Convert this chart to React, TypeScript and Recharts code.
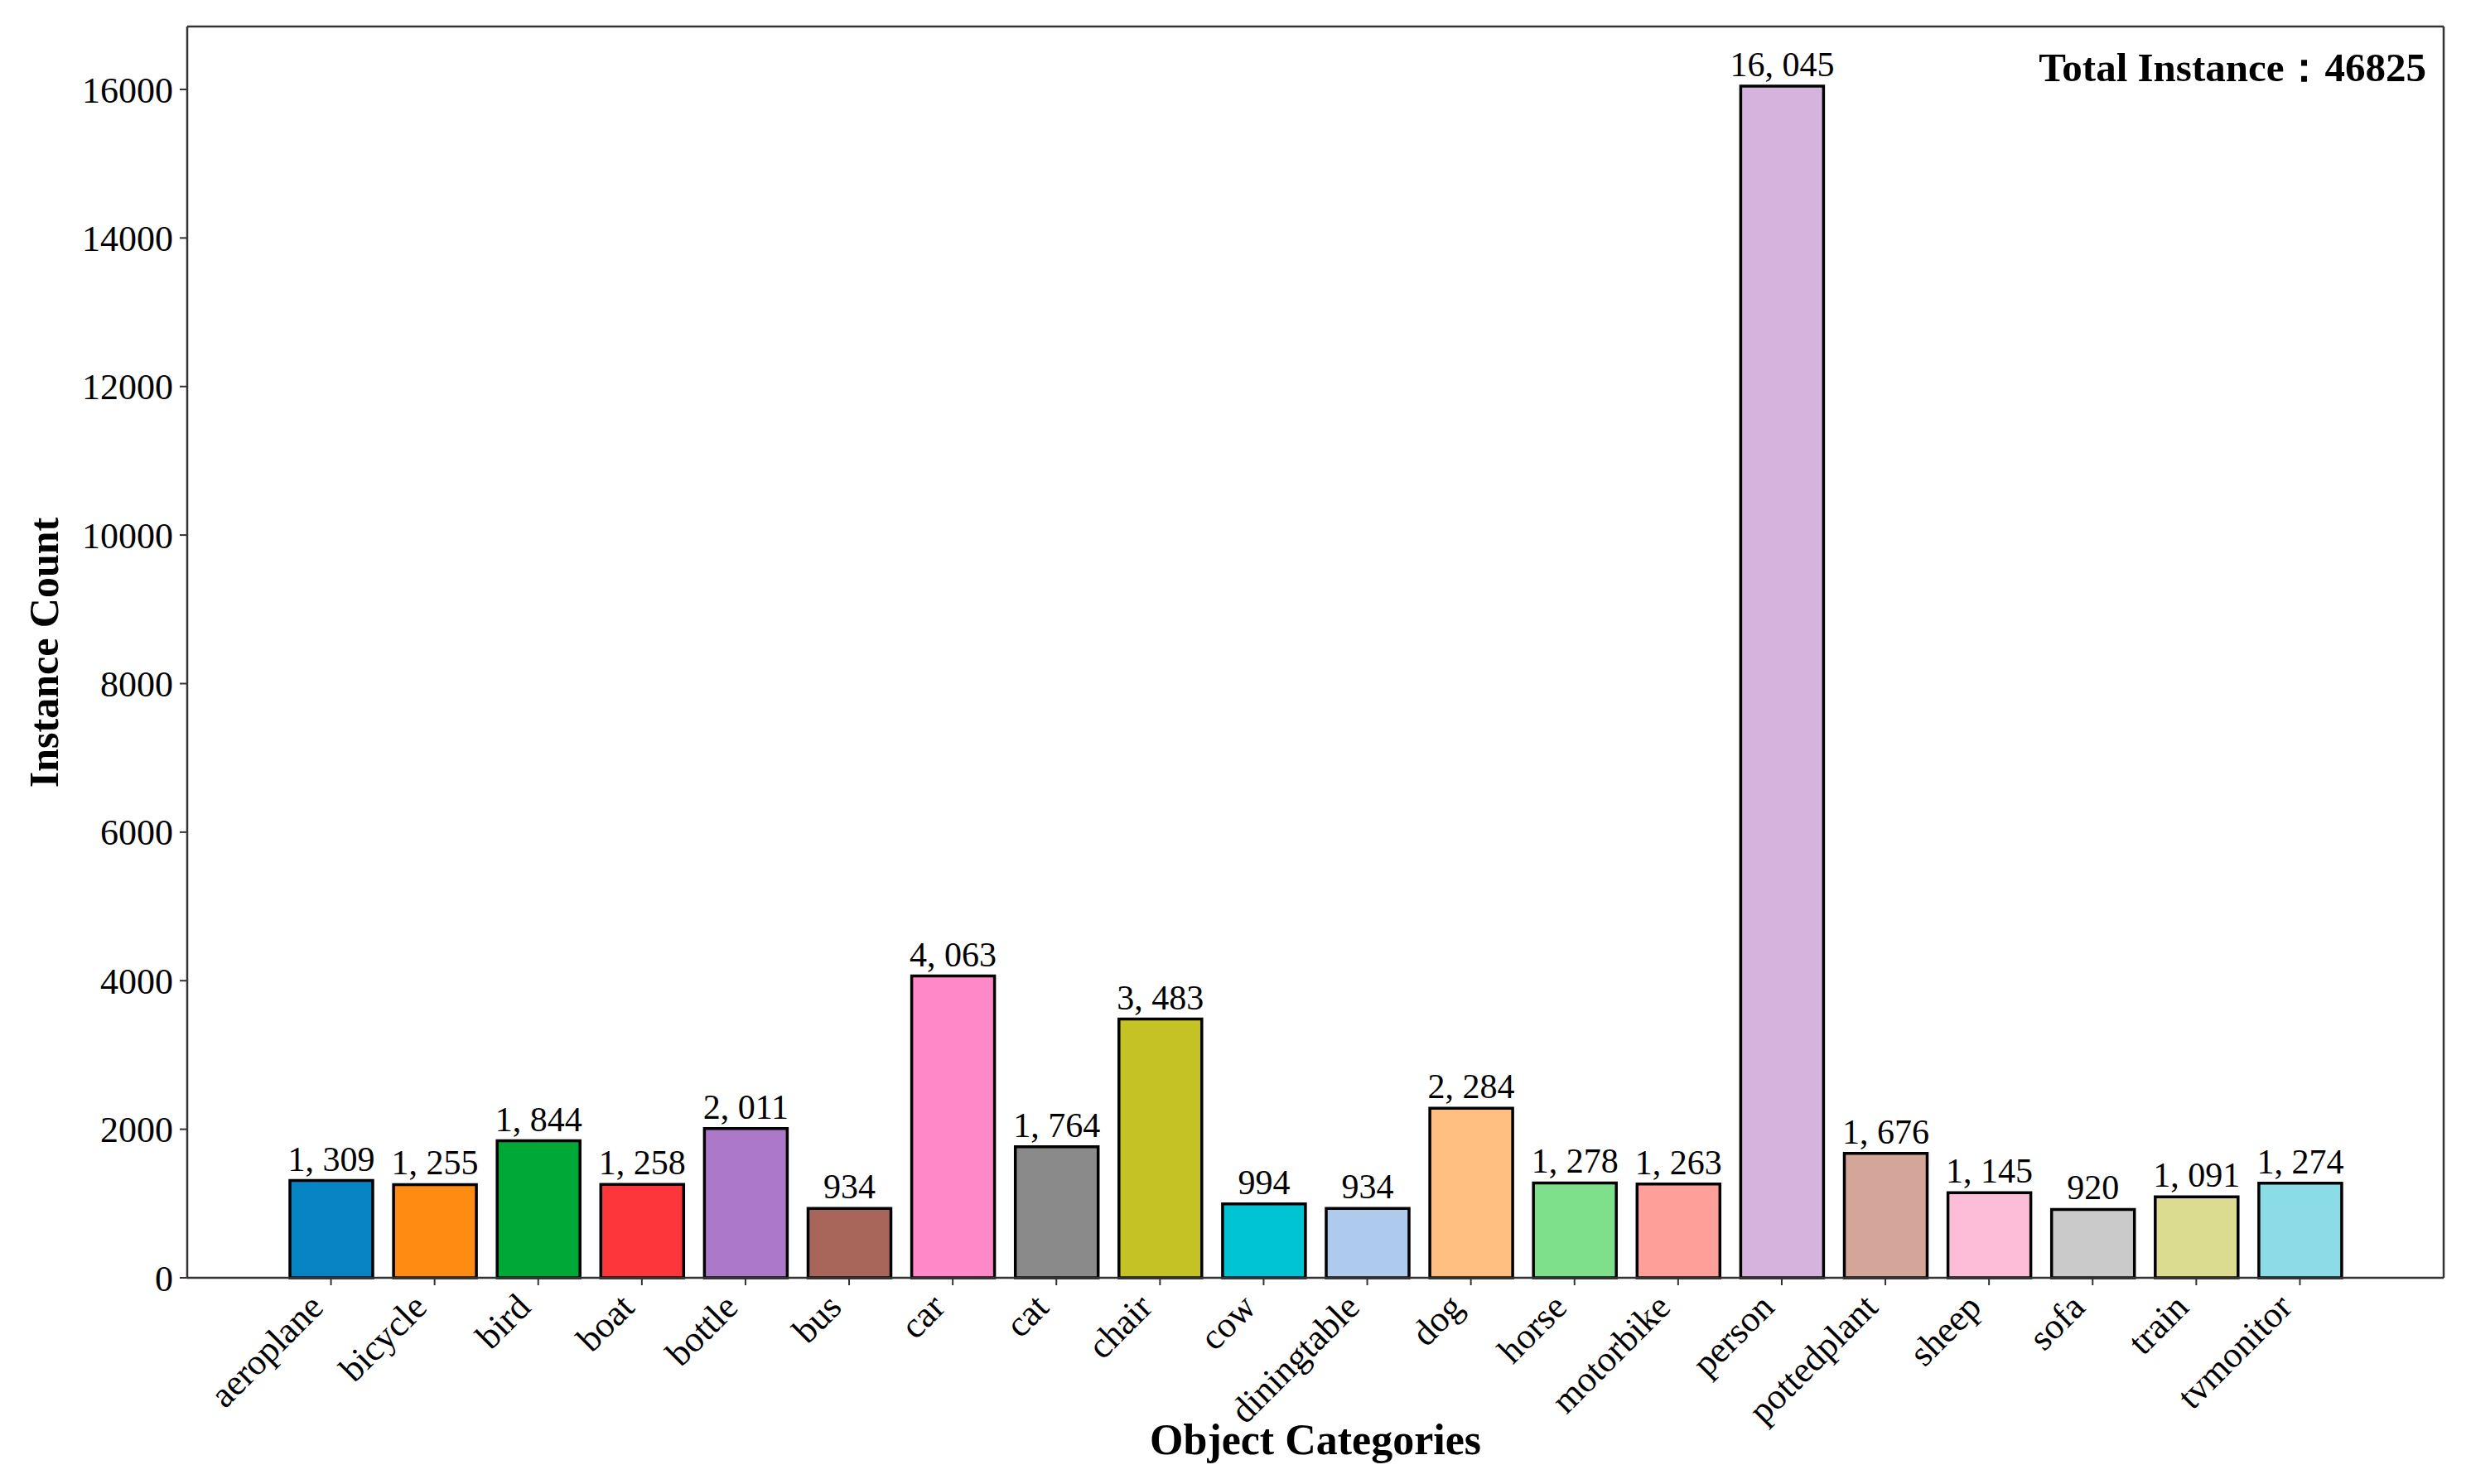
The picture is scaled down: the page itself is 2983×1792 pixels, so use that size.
import { ComposedChart, Bar, Line, XAxis, YAxis, Cell, LabelList } from 'recharts';

const categories = [
  'aeroplane', 'bicycle', 'bird', 'boat', 'bottle', 'bus', 'car', 'cat', 'chair', 'cow',
  'diningtable', 'dog', 'horse', 'motorbike', 'person', 'pottedplant', 'sheep', 'sofa', 'train', 'tvmonitor',
];

const counts = [
  1309, 1255, 1844, 1258, 2011, 934, 4063, 1764, 3483, 994,
  934, 2284, 1278, 1263, 16045, 1676, 1145, 920, 1091, 1274,
];

const yTicks = [0, 2000, 4000, 6000, 8000, 10000, 12000, 14000, 16000];

const palette = [
  '#0784c3', '#ff8c12', '#00a838', '#fc363b', '#ac78c8', '#a8665a', '#ff88c8', '#8a8a8a', '#c4c224', '#00c4d4',
  '#aecbee', '#ffbf80', '#7fe08c', '#ff9f9a', '#d4b4dc', '#d4a69a', '#fdbcd8', '#cacaca', '#dcdc90', '#8cdce8',
];

const data = categories.map((name, i) => ({ name, value: counts[i] }));
const total = counts.reduce((a, b) => a + b, 0);

const FONT = '"Liberation Serif", "Times New Roman", serif';

const fmt = (v: number) => v.toLocaleString('en-US').replace(/,/g, ', ');

const CategoryTick = ({ x, y, payload }: any) => (
  <g transform={`translate(${x - 7},${y + 27})`}>
    <text
      x={0}
      y={0}
      transform="rotate(-45)"
      textAnchor="end"
      fontFamily={FONT}
      fontSize={44}
      fill="#000"
    >
      {payload.value}
    </text>
  </g>
);

const App = () => {
  return (
    <ComposedChart
      width={2967}
      height={1776}
      data={data}
      margin={{ top: 23, right: 24, left: 0, bottom: 0 }}
    >
      <XAxis
        dataKey="name"
        interval={0}
        height={241}
        padding={{ left: 111, right: 111 }}
        tick={<CategoryTick />}
        tickSize={9}
        tickLine={{ stroke: '#333', strokeWidth: 2 }}
        axisLine={{ stroke: '#333', strokeWidth: 2.5 }}
      />
      <XAxis
        xAxisId="top"
        dataKey="name"
        orientation="top"
        height={1}
        tick={false}
        tickLine={false}
        axisLine={{ stroke: '#333', strokeWidth: 2.5 }}
      />
      <YAxis
        width={218}
        domain={[0, 16847]}
        ticks={yTicks}
        interval={0}
        tickSize={9}
        tickMargin={8}
        tick={{ fontFamily: FONT, fontSize: 44, fill: '#000' }}
        tickLine={{ stroke: '#333', strokeWidth: 2 }}
        axisLine={{ stroke: '#333', strokeWidth: 2.5 }}
      />
      <YAxis
        yAxisId="right"
        orientation="right"
        width={1}
        domain={[0, 16847]}
        tick={false}
        tickLine={false}
        axisLine={{ stroke: '#333', strokeWidth: 2.5 }}
      />
      <Bar
        dataKey="value"
        barSize={100}
        stroke="#000"
        strokeWidth={3.5}
        isAnimationActive={false}
      >
        {data.map((d, i) => (
          <Cell key={d.name} fill={palette[i]} />
        ))}
        <LabelList
          dataKey="value"
          position="top"
          offset={12}
          formatter={(v: any) => fmt(Number(v))}
          style={{ fontFamily: FONT, fontSize: 42, fill: '#000' }}
        />
      </Bar>
      {/* invisible series so the top and right frame axes get drawn */}
      <Line
        xAxisId="top"
        yAxisId="right"
        dataKey="value"
        stroke="none"
        dot={false}
        activeDot={false}
        legendType="none"
        isAnimationActive={false}
      />
      <text
        x={45}
        y={780}
        transform="rotate(-90 45 780)"
        textAnchor="middle"
        dominantBaseline="central"
        fontFamily={FONT}
        fontWeight="bold"
        fontSize={50}
        fill="#000"
      >
        Instance Count
      </text>
      <text
        x={1580}
        y={1748}
        textAnchor="middle"
        fontFamily={FONT}
        fontWeight="bold"
        fontSize={52}
        fill="#000"
      >
        Object Categories
      </text>
      <text
        x={2921}
        y={90}
        textAnchor="end"
        fontFamily={FONT}
        fontWeight="bold"
        fontSize={49}
        fill="#000"
      >
        {`Total Instance：${total}`}
      </text>
    </ComposedChart>
  );
};

export default App;
